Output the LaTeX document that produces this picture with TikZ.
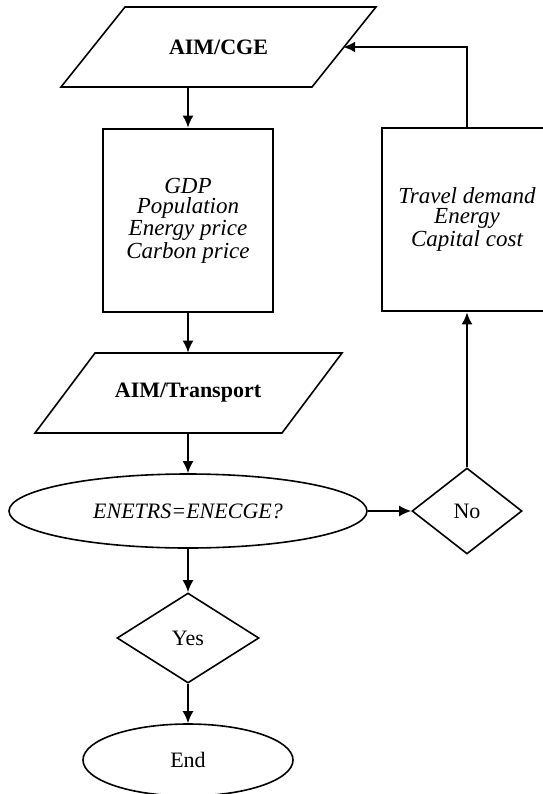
\documentclass[tikz,border=0pt]{standalone}
\usepackage{fontspec}
\setmainfont{Liberation Serif}
\usetikzlibrary{shapes.geometric}
\usetikzlibrary{arrows.meta}

\tikzset{
  flow/.style={line width=0.9pt, -{Latex[length=6pt,width=5.5pt]}},
  databox/.style={draw, line width=1.4pt, minimum width=85pt, minimum height=91.5pt,
    align=center, font=\fontsize{11.5}{10}\selectfont\itshape},
  datatext/.style={align=center, font=\fontsize{11.5}{10}\selectfont\itshape},
  oval/.style={draw, ellipse, line width=0.8pt, inner sep=0pt},
  decide/.style={draw, diamond, line width=0.8pt, inner sep=0pt},
  io/.style={inner sep=0pt, minimum height=40pt, font=\fontsize{11}{13}\selectfont\bfseries},
}

\begin{document}
\begin{tikzpicture}[x=0.5pt, y=-0.5pt, font=\fontsize{11}{13}\selectfont]
\useasboundingbox (0,0) rectangle (542,794);
% input / output blocks
\draw[line width=0.8pt] (61,87) -- (312,87) -- (376,7) -- (125,7) -- cycle;
\node[io] (cge) at (218.5,47) {AIM/CGE};
\coordinate (cgein) at (343.2,47);
\draw[line width=0.8pt] (35,433) -- (282,433) -- (342,353) -- (95,353) -- cycle;
\node[io] (trans) at (188,393) {AIM/Transport};
% data boxes
\node[databox] (gdp) at (188,220.5) {GDP\\Population\\Energy price\\Carbon price};
\node[databox, minimum width=110pt] (travel) at (492,219.5) {};
\node[datatext] (travellbl) at (467,219.5) {Travel demand\\Energy\\Capital cost};
% test and decisions
\node[oval, minimum width=179pt, minimum height=37pt] (check) at (188,511) {\textit{ENETRS=ENECGE?}};
\node[decide, minimum width=55pt, minimum height=43pt] (no) at (467,511) {No};
\node[decide, minimum width=71pt, minimum height=45pt] (yes) at (188,638) {Yes};
\node[oval, minimum width=105pt, minimum height=36pt] (end) at (188,760) {End};
% connectors
\draw[flow] (cge.south -| gdp.north) -- (gdp.north);
\draw[flow] (gdp.south) -- (trans.north);
\draw[flow] (trans.south) -- (check.north);
\draw[flow] (check.east) -- (no.west);
\draw[flow] (check.south) -- (yes.north);
\draw[flow] (yes.south) -- (end.north);
\draw[flow] (no.north) -- (no.north |- travel.south);
\draw[flow] (no.north |- travel.north) |- (cgein);
\end{tikzpicture}
\end{document}
